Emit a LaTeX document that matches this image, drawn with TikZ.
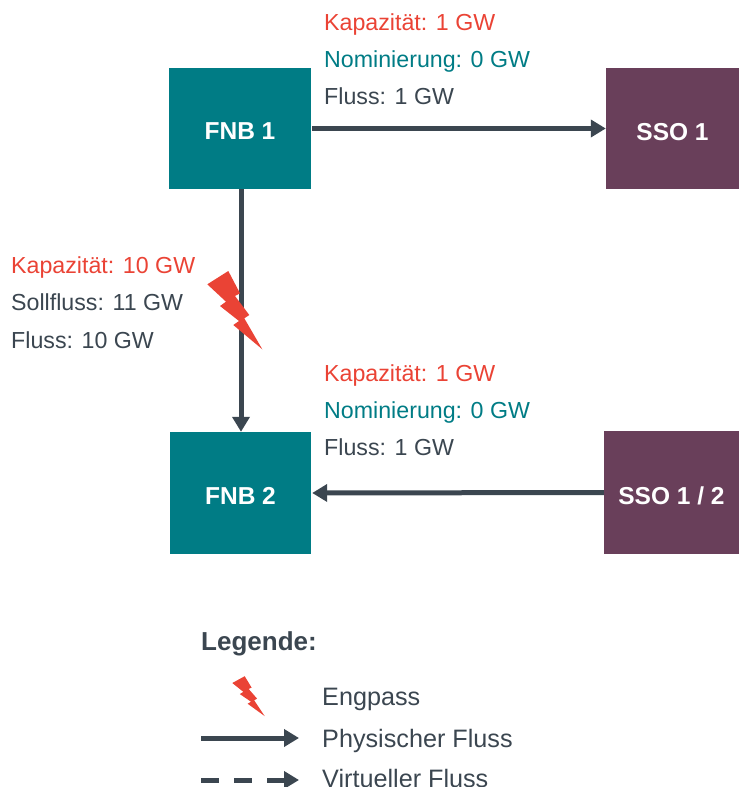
\documentclass[tikz,border=0pt]{standalone}
\usepackage{fontspec}
\setmainfont{Liberation Sans}
\usetikzlibrary{arrows.meta}
\definecolor{teal1}{HTML}{007C85}
\definecolor{plum1}{HTML}{693F5A}
\definecolor{dark1}{HTML}{3B4650}
\definecolor{red1}{HTML}{EA4335}
\newcommand{\boxtxt}[1]{\raisebox{-3pt}[\height][0pt]{#1}}
\newcommand{\boltshape}{\fill[red1] (228.3,271)--(240,293.3)--(235,296)--(249.3,315)--(244.3,318.3)--(262.3,349.3)--(233.3,325)--(239,321)--(220,306)--(226,301.7)--(207.3,284.3)--cycle;}
\tikzset{
  box/.style={draw=none,inner sep=0pt,font=\fontsize{24.5}{28}\selectfont\bfseries,text=white},
  fnb/.style={box,fill=teal1},
  sso/.style={box,fill=plum1},
  flow/.style={draw=dark1,line width=5pt,-{Triangle[length=15pt,width=17pt]}},
  lab/.style={inner sep=0pt,anchor=base west,font=\fontsize{23.2}{28}\selectfont,text=dark1},
  leglab/.style={lab,font=\fontsize{25.2}{28}\selectfont},
  redlab/.style={lab,text=red1},
  teallab/.style={lab,text=teal1}
}
\begin{document}
\begin{tikzpicture}[x=1pt,y=-1pt]
\useasboundingbox (0,0) rectangle (739,787);
\node[fnb,minimum width=142pt,minimum height=121pt] (f1) at (240,128.5) {\boxtxt{FNB 1}};
\node[sso,minimum width=133pt,minimum height=121pt] (s1) at (672.5,128.5) {\boxtxt{SSO 1}};
\node[fnb,minimum width=141pt,minimum height=122pt] (f2) at (240.5,493) {\boxtxt{FNB 2}};
\node[sso,minimum width=135pt,minimum height=123pt] (s2) at (671.5,492.5) {\boxtxt{SSO 1 / 2}};
\draw[flow] ([xshift=1pt]f1.east) -- (s1.west);
\draw[flow] ([xshift=1pt]f1.south) -- ([xshift=0.5pt]f2.north);
\draw[flow] (s2.west) -- ([xshift=1pt]f2.east);
\boltshape
\node[redlab] (k1) at (324,30.5) {Kapazität: 1 GW};
\node[teallab] (n1) at (324,67.5) {Nominierung: 0 GW};
\node[lab] (m1) at (324,104.5) {Fluss: 1 GW};
\node[redlab] (k2) at (11,273.5) {Kapazität: 10 GW};
\node[lab] (n2) at (11,310.5) {Sollfluss: 11 GW};
\node[lab] (m2) at (11,348.5) {Fluss: 10 GW};
\node[redlab] (k3) at (324,381.5) {Kapazität: 1 GW};
\node[teallab] (n3) at (324,418.5) {Nominierung: 0 GW};
\node[lab] (m3) at (324,455.5) {Fluss: 1 GW};
\node[lab,font=\fontsize{26}{28}\selectfont\bfseries] (lg) at (201,650.5) {Legende:};
\begin{scope}[cm={0.59,0,0,0.51,(110,538)}]
\boltshape
\end{scope}
\node[leglab] (e) at (322,705) {Engpass};
\node[leglab] (p) at (322,747) {Physischer Fluss};
\node[leglab] (v) at (322,787) {Virtueller Fluss};
\coordinate (p0) at (201,738);
\coordinate (p1) at (299,738);
\coordinate (v0) at (201,780);
\coordinate (v1) at (299,780);
\draw[flow] (p0) -- (p1);
\draw[flow,dash pattern=on 18pt off 15pt] (v0) -- (v1);
\end{tikzpicture}
\end{document}
